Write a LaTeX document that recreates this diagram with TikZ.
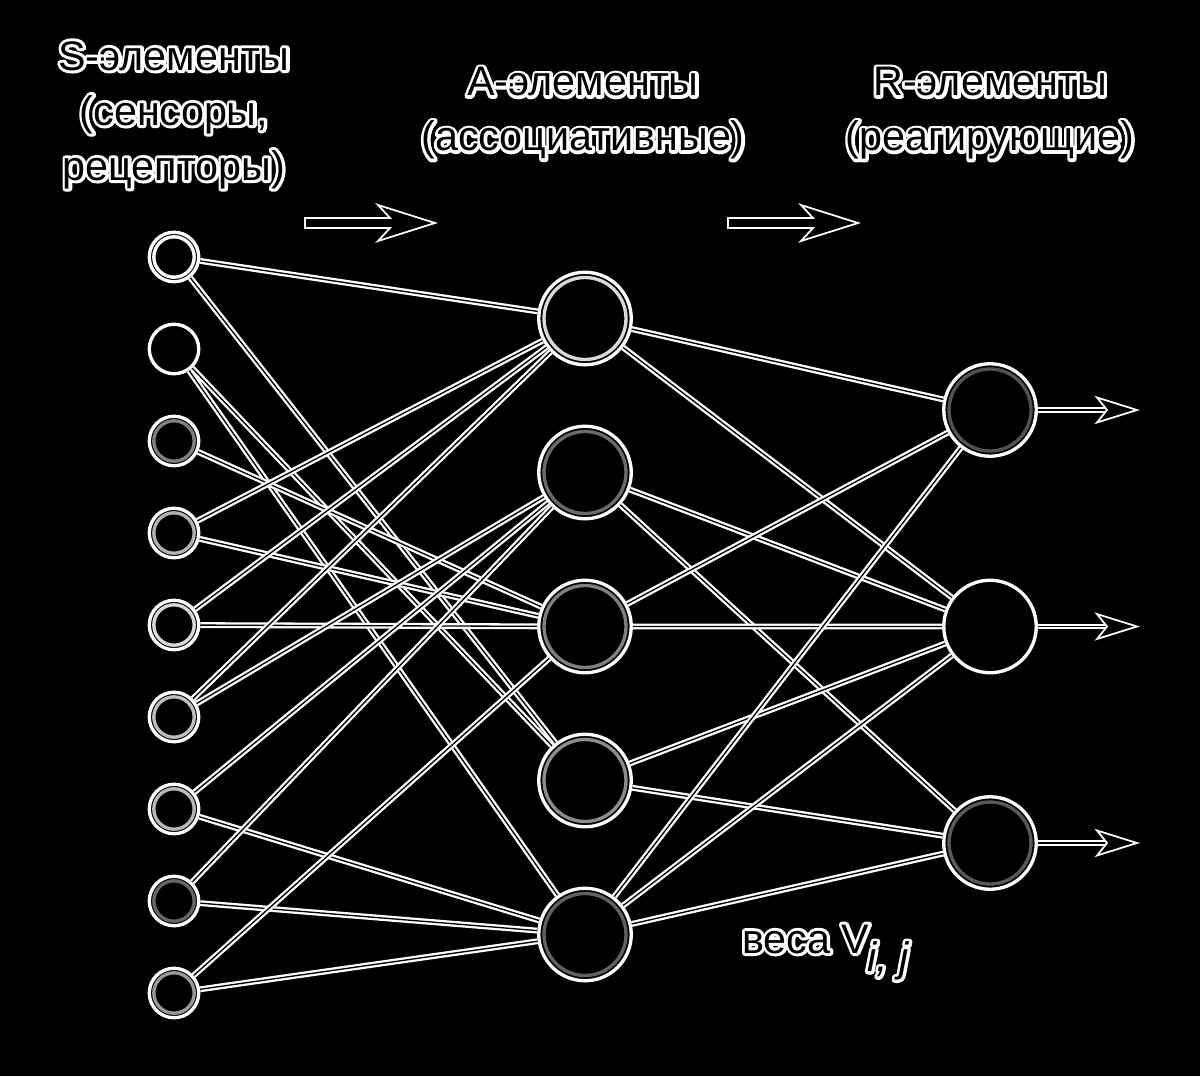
\documentclass[tikz,border=0pt]{standalone}
\usepackage{fontspec}
\setmainfont{Liberation Sans}
\usepackage{tikz}
\usetikzlibrary{positioning}

% outlined text: white stroke behind, black fill on top
\newcommand{\lbl}[1]{\rlap{\special{pdf:literal direct q 1 Tr 1 G 3.4 w 1 j}#1\special{pdf:literal direct Q}}#1}

\tikzset{
  neuron/.style={circle, draw=white, line width=1.9pt, fill=black, inner sep=0pt},
  sens/.style={neuron, minimum size=0.99cm,
    path picture={\draw[draw=#1, line width=1.9pt] (path picture bounding box.center) circle (0.404);}},
  assoc/.style={neuron, minimum size=1.85cm,
    path picture={\draw[draw=#1, line width=1.9pt] (path picture bounding box.center) circle (0.82);}},
  wire/.style={draw=white, double=black, line width=1.3pt, double distance=0.75pt},
  flow/.style={draw=white, fill=black, line width=1pt, line join=miter},
  caption/.style={align=center, font=\fontsize{23.5}{31.3}\selectfont, text=black},
}

\begin{document}
\begin{tikzpicture}
    \useasboundingbox[fill=black] (0,0) rectangle (24,21.52);
        \path
        % S layer
        (3.48,16.38) node[sens=white]       (s1) {}
        (3.48,14.54) node[sens=none]        (s2) {}
        (3.48,12.70) node[sens=black!50]    (s3) {}
        (3.48,10.86) node[sens=black!30]    (s4) {}
        (3.48,9.02)  node[sens=black!15]    (s5) {}
        (3.48,7.18)  node[sens=black!25]    (s6) {}
        (3.48,5.34)  node[sens=black!28]    (s7) {}
        (3.48,3.50)  node[sens=black!60]    (s8) {}
        (3.48,1.66)  node[sens=black!40]    (s9) {}
        % A layer
        (11.7,15.15) node[assoc=black!15]   (a1) {}
        (11.7,12.07) node[assoc=black!58]   (a2) {}
        (11.7,8.99)  node[assoc=black!50]   (a3) {}
        (11.7,5.91)  node[assoc=black!45]   (a4) {}
        (11.7,2.83)  node[assoc=black!62]   (a5) {}
        % R layer
        (19.8,13.32) node[assoc=black!68]   (r1) {}
        (19.8,8.99)  node[assoc=none]       (r2) {}
        (19.8,4.66)  node[assoc=black!65]   (r3) {};

        % S -> A
        \draw[wire] (s1)--(a1) (s1)--(a4);
        \draw[wire] (s2)--(a4) (s2)--(a5);
        \draw[wire] (s3)--(a3);
        \draw[wire] (s4)--(a1) (s4)--(a3);
        \draw[wire] (s5)--(a1) (s5)--(a3);
        \draw[wire] (s6)--(a1) (s6)--(a2);
        \draw[wire] (s7)--(a2) (s7)--(a5);
        \draw[wire] (s8)--(a2) (s8)--(a5);
        \draw[wire] (s9)--(a3) (s9)--(a5);
        % A -> R
        \draw[wire] (a1)--(r1) (a1)--(r2);
        \draw[wire] (a2)--(r2) (a2)--(r3);
        \draw[wire] (a3)--(r1) (a3)--(r2);
        \draw[wire] (a4)--(r2) (a4)--(r3);
        \draw[wire] (a5)--(r1) (a5)--(r2) (a5)--(r3);

        % outputs
        \coordinate (o1) at (22.14,13.32);
        \coordinate (o2) at (22.14,8.99);
        \coordinate (o3) at (22.14,4.66);
        \draw[wire] (r1)--(o1);
        \draw[wire] (r2)--(o2);
        \draw[wire] (r3)--(o3);
        \draw[flow] (o1) -- ++(-0.2,0.25) -- ++(0.8,-0.25) -- ++(-0.8,-0.25) -- cycle;
        \draw[flow] (o2) -- ++(-0.2,0.25) -- ++(0.8,-0.25) -- ++(-0.8,-0.25) -- cycle;
        \draw[flow] (o3) -- ++(-0.2,0.25) -- ++(0.8,-0.25) -- ++(-0.8,-0.25) -- cycle;

        % direction arrows
        \coordinate (f1) at (6.1,17.06);
        \coordinate (f2) at (14.56,17.06);
        \draw[flow] (f1) ++(0,0.1) -- ++(1.7,0) -- ++(-0.24,0.26) -- ++(1.14,-0.36)
            -- ++(-1.14,-0.36) -- ++(0.24,0.26) -- ++(-1.7,0) -- cycle;
        \draw[flow] (f2) ++(0,0.1) -- ++(1.7,0) -- ++(-0.24,0.26) -- ++(1.14,-0.36)
            -- ++(-1.14,-0.36) -- ++(0.24,0.26) -- ++(-1.7,0) -- cycle;

        % captions
        \node[caption] (stitle) at (3.48,19.22) {\lbl{S-элементы}\\\lbl{(сенсоры,}\\\lbl{рецепторы)}};
        \node[caption] (atitle) at (11.66,19.25) {\lbl{A-элементы}\\\lbl{(ассоциативные)}};
        \node[caption] (rtitle) at (19.8,19.25) {\lbl{R-элементы}\\\lbl{(реагирующие)}};
        \node[caption, anchor=base west] (wlabel) at (14.72,2.46)
            {\lbl{веса V\kern-0.05em\raisebox{-0.45em}{\itshape i, j}}};
    \end{tikzpicture}
\end{document}
